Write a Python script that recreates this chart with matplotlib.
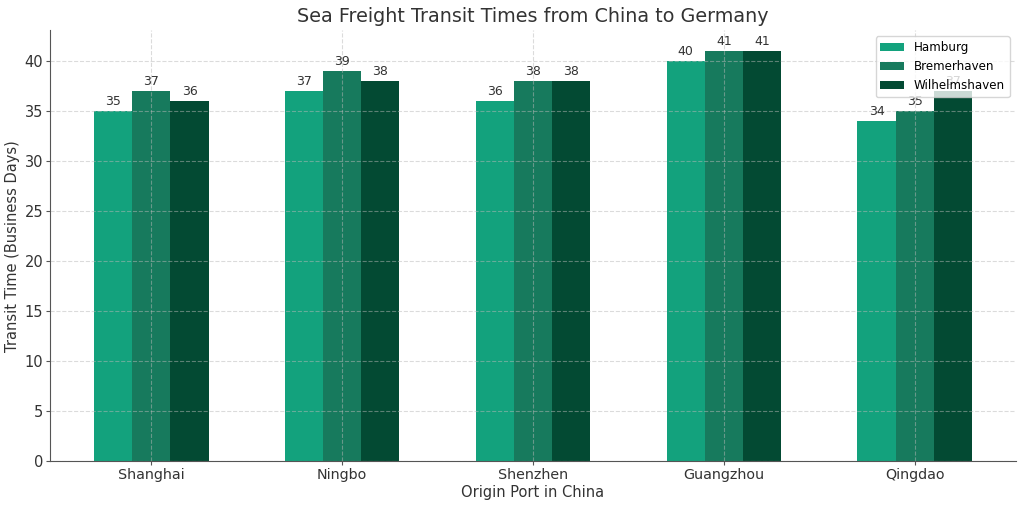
import matplotlib
matplotlib.use("Agg")
import matplotlib.pyplot as plt
import numpy as np

# data
ports = ["Shanghai", "Ningbo", "Shenzhen", "Guangzhou", "Qingdao"]
hamburg = [35, 37, 36, 40, 34]
bremerhaven = [37, 39, 38, 41, 35]
wilhelmshaven = [36, 38, 38, 41, 37]
series_names = ["Hamburg", "Bremerhaven", "Wilhelmshaven"]
colors = ["#13a27d", "#177a5d", "#034a33"]

txt = "#333333"
plt.rcParams["font.family"] = "DejaVu Sans"

fig, ax = plt.subplots(figsize=(10.24, 5.08), dpi=100)
x = np.arange(len(ports))
w = 0.2

for k, vals in enumerate([hamburg, bremerhaven, wilhelmshaven]):
    bars = ax.bar(x + (k - 1) * w, vals, w, color=colors[k], label=series_names[k])
    for b, v in zip(bars, vals):
        ax.text(b.get_x() + b.get_width() / 2, v + 0.3, str(v),
                ha="center", va="bottom", fontsize=9, color=txt)

ax.set_xticks(x)
ax.set_xticklabels(ports, fontsize=10.3, color=txt)
ax.tick_params(axis="y", labelsize=10.5, labelcolor=txt)
ax.tick_params(length=3, pad=2, color="#555555")
ax.set_xlabel("Origin Port in China", fontsize=10.5, color=txt, labelpad=2)
ax.set_ylabel("Transit Time (Business Days)", fontsize=10.5, color=txt, labelpad=3)
ax.set_title("Sea Freight Transit Times from China to Germany", fontsize=13.8, color=txt)

ax.grid(True, linestyle="--", color="#b8b8b8", alpha=0.5, linewidth=0.8)
ax.spines["top"].set_visible(False)
ax.spines["right"].set_visible(False)
for s in ["left", "bottom"]:
    ax.spines[s].set_color("#555555")

ax.legend(loc="upper right", fontsize=8.6)

plt.subplots_adjust(left=0.049, right=0.992, top=0.94, bottom=0.092)
fig.savefig("out.png")
